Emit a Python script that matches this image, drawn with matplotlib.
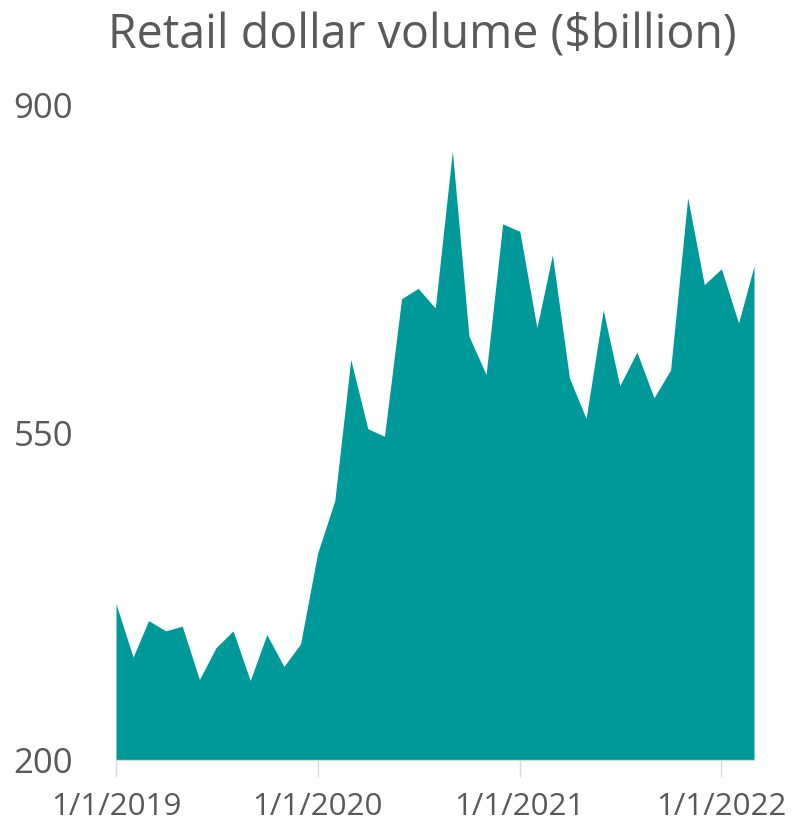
import matplotlib
matplotlib.use("Agg")
import matplotlib.pyplot as plt
import matplotlib.dates as mdates
import pandas as pd

plt.rcParams['font.family'] = ['Open Sans', 'DejaVu Sans']

months = pd.date_range("2019-01-01", "2022-03-01", freq="MS")
values = [367, 310, 349, 338, 343, 286, 320, 338, 285, 334, 300, 324,
          421, 477, 628, 554, 546, 693, 704, 683, 851, 653, 612, 773,
          765, 662, 740, 608, 565, 681, 600, 636, 587, 617, 801, 708,
          725, 667, 728]
y_ticks = [200, 550, 900]
x_tick_dates = pd.to_datetime(["2019-01-01", "2020-01-01", "2021-01-01", "2022-01-01"])
x_tick_labels = ["1/1/2019", "1/1/2020", "1/1/2021", "1/1/2022"]
title = "Retail dollar volume ($billion)"

TEAL = "#009999"
TEXT = "#595959"
GRID = "#d9d9d9"

fig = plt.figure(figsize=(7.94, 8.27), dpi=100)
ax = fig.add_axes([116/794, 1-760/827, (754-116)/794, (760-105)/827])

ax.fill_between(months, 200, values, color=TEAL, linewidth=0)
ax.set_xlim(months[0], months[-1])
ax.set_ylim(200, 900)

ax.set_yticks(y_ticks)
ax.set_yticklabels([str(v) for v in y_ticks])
ax.set_xticks(x_tick_dates)
ax.set_xticklabels(x_tick_labels)

for s in ["top", "right", "left"]:
    ax.spines[s].set_visible(False)
ax.spines["bottom"].set_color(GRID)
ax.spines["bottom"].set_linewidth(1)

ax.tick_params(axis="y", length=0, labelsize=25, labelcolor=TEXT, pad=31)
ax.tick_params(axis="x", length=12, width=1, color=GRID, labelsize=22.5,
               labelcolor=TEXT, pad=11)

fig.text(422/794, 1-36/827, title, ha="center", va="center",
         fontsize=33.5, color=TEXT)

fig.savefig("out.png", dpi=100, facecolor="white")
